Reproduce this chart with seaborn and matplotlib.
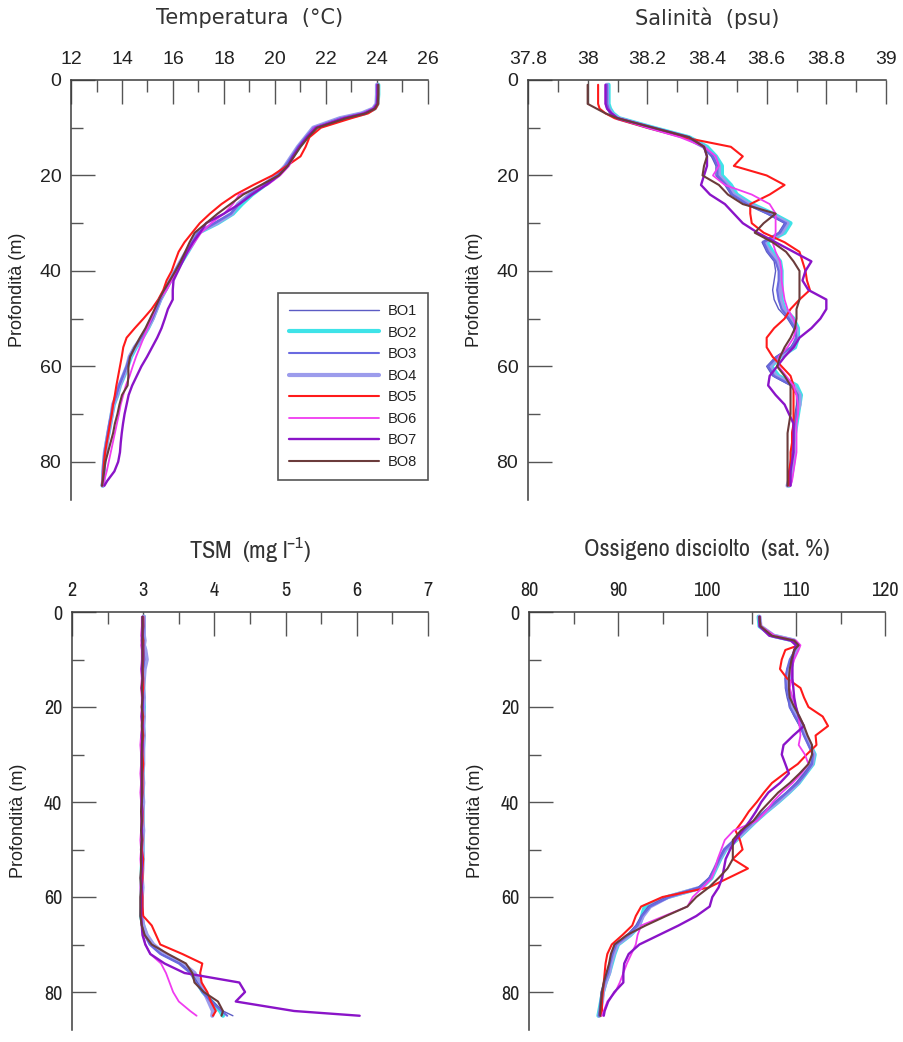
import matplotlib
matplotlib.use("Agg")
import matplotlib.pyplot as plt
import matplotlib.font_manager as fm
from matplotlib.ticker import MultipleLocator, FixedLocator, FuncFormatter
import numpy as np
import pandas as pd
import seaborn as sns

# ---------------- data ----------------
stations = ["BO1", "BO2", "BO3", "BO4", "BO5", "BO6", "BO7", "BO8"]

depth = [1, 3, 5, 6, 7, 8, 10, 12, 14, 16, 18, 20, 22, 24, 26,
         28, 30, 32, 34, 36, 38, 40, 42, 44, 46, 48, 50, 52, 54, 56,
         58, 60, 62, 64, 66, 68, 70, 72, 74, 76, 78, 80, 82, 84, 85]

# Temperature (deg C)
temp_BO1 = [24.02, 24.02, 24.00, 23.88, 23.45, 22.60, 21.55, 21.22, 20.92, 20.70, 20.42, 20.10, 19.60, 19.05, 18.60,
            18.25, 17.60, 17.00, 16.78, 16.53, 16.30, 16.10, 15.90, 15.70, 15.50, 15.35, 15.20, 15.00, 14.75, 14.50,
            14.30, 14.18, 14.05, 13.90, 13.78, 13.65, 13.58, 13.52, 13.45, 13.38, 13.32, 13.28, 13.26, 13.24, 13.20]
temp_BO2 = [24.05, 24.05, 24.02, 23.90, 23.50, 22.70, 21.60, 21.25, 20.95, 20.70, 20.45, 20.10, 19.60, 19.10, 18.70,
            18.35, 17.75, 17.00, 16.80, 16.58, 16.35, 16.10, 15.90, 15.70, 15.50, 15.35, 15.20, 15.02, 14.80, 14.55,
            14.35, 14.22, 14.08, 13.92, 13.82, 13.68, 13.60, 13.54, 13.47, 13.40, 13.35, 13.30, 13.28, 13.26, 13.24]
temp_BO3 = [24.00, 24.00, 23.98, 23.85, 23.42, 22.58, 21.52, 21.20, 20.90, 20.66, 20.40, 20.08, 19.58, 19.02, 18.58,
            18.28, 17.65, 16.98, 16.76, 16.52, 16.30, 16.08, 15.88, 15.68, 15.50, 15.35, 15.18, 14.98, 14.75, 14.50,
            14.30, 14.18, 14.03, 13.88, 13.78, 13.65, 13.58, 13.50, 13.44, 13.38, 13.32, 13.28, 13.25, 13.23, 13.20]
temp_BO4 = [24.00, 24.00, 23.98, 23.85, 23.40, 22.55, 21.50, 21.20, 20.90, 20.65, 20.40, 20.07, 19.55, 19.00, 18.55,
            18.30, 17.70, 16.95, 16.75, 16.52, 16.30, 16.10, 15.90, 15.70, 15.50, 15.35, 15.20, 15.00, 14.77, 14.50,
            14.30, 14.20, 14.05, 13.90, 13.80, 13.65, 13.60, 13.53, 13.46, 13.40, 13.33, 13.30, 13.27, 13.27, 13.25]
temp_BO5 = [24.05, 24.05, 24.05, 23.95, 23.65, 23.00, 21.80, 21.35, 21.20, 21.00, 20.46, 19.90, 19.15, 18.45, 17.90,
            17.45, 17.05, 16.75, 16.45, 16.22, 16.08, 15.95, 15.75, 15.62, 15.42, 15.16, 14.84, 14.50, 14.18, 14.05,
            13.99, 13.92, 13.85, 13.78, 13.72, 13.65, 13.60, 13.53, 13.47, 13.40, 13.34, 13.30, 13.27, 13.24, 13.22]
temp_BO6 = [24.02, 24.02, 24.00, 23.85, 23.45, 22.65, 21.55, 21.25, 20.95, 20.75, 20.55, 20.20, 19.70, 18.60, 18.35,
            18.00, 17.50, 17.10, 16.85, 16.60, 16.35, 16.15, 15.95, 15.75, 15.45, 15.30, 15.15, 15.00, 14.85, 14.70,
            14.55, 14.42, 14.30, 14.15, 14.05, 13.95, 13.88, 13.80, 13.72, 13.64, 13.56, 13.48, 13.40, 13.30, 13.25]
temp_BO7 = [24.02, 24.02, 24.00, 23.88, 23.50, 22.70, 21.60, 21.25, 20.95, 20.70, 20.50, 20.15, 19.65, 19.10, 18.60,
            18.00, 17.30, 17.06, 16.78, 16.56, 16.38, 16.20, 16.02, 15.99, 15.99, 15.80, 15.68, 15.55, 15.38, 15.18,
            14.98, 14.76, 14.58, 14.40, 14.26, 14.18, 14.10, 14.04, 13.99, 13.95, 13.92, 13.85, 13.70, 13.42, 13.31]
temp_BO8 = [24.05, 24.05, 24.03, 23.92, 23.55, 22.80, 21.65, 21.30, 21.00, 20.75, 20.50, 20.15, 19.45, 18.75, 18.25,
            17.75, 17.30, 16.85, 16.65, 16.48, 16.30, 16.10, 15.88, 15.65, 15.45, 15.28, 15.10, 14.92, 14.70, 14.50,
            14.32, 14.25, 14.25, 14.22, 14.00, 13.90, 13.82, 13.72, 13.65, 13.55, 13.45, 13.35, 13.30, 13.25, 13.22]

# Salinity (psu)
sal_BO1 = [38.060, 38.060, 38.060, 38.065, 38.075, 38.095, 38.200, 38.320, 38.385, 38.415, 38.430, 38.430, 38.460, 38.480, 38.530,
           38.600, 38.660, 38.640, 38.585, 38.600, 38.625, 38.630, 38.625, 38.620, 38.625, 38.640, 38.670, 38.690, 38.700, 38.680,
           38.630, 38.600, 38.620, 38.680, 38.700, 38.700, 38.695, 38.690, 38.685, 38.685, 38.685, 38.680, 38.680, 38.675, 38.670]
sal_BO2 = [38.070, 38.070, 38.070, 38.075, 38.085, 38.105, 38.220, 38.340, 38.400, 38.430, 38.450, 38.450, 38.480, 38.500, 38.550,
           38.620, 38.680, 38.660, 38.600, 38.620, 38.645, 38.650, 38.650, 38.650, 38.650, 38.660, 38.690, 38.705, 38.705, 38.695,
           38.645, 38.615, 38.640, 38.700, 38.715, 38.710, 38.705, 38.700, 38.695, 38.690, 38.690, 38.690, 38.685, 38.680, 38.675]
sal_BO3 = [38.065, 38.065, 38.065, 38.070, 38.080, 38.100, 38.210, 38.330, 38.390, 38.420, 38.435, 38.435, 38.465, 38.485, 38.535,
           38.605, 38.665, 38.645, 38.590, 38.605, 38.630, 38.640, 38.640, 38.635, 38.640, 38.650, 38.675, 38.695, 38.700, 38.685,
           38.635, 38.605, 38.625, 38.685, 38.705, 38.705, 38.700, 38.695, 38.690, 38.690, 38.685, 38.680, 38.680, 38.675, 38.670]
sal_BO4 = [38.065, 38.065, 38.065, 38.070, 38.080, 38.100, 38.210, 38.330, 38.390, 38.420, 38.440, 38.440, 38.470, 38.490, 38.540,
           38.610, 38.670, 38.650, 38.590, 38.610, 38.635, 38.645, 38.645, 38.645, 38.645, 38.655, 38.680, 38.700, 38.700, 38.690,
           38.640, 38.610, 38.630, 38.690, 38.710, 38.710, 38.700, 38.695, 38.690, 38.690, 38.690, 38.685, 38.680, 38.675, 38.670]
sal_BO5 = [38.035, 38.035, 38.035, 38.040, 38.060, 38.090, 38.200, 38.320, 38.480, 38.520, 38.490, 38.600, 38.660, 38.610, 38.545,
           38.545, 38.550, 38.590, 38.660, 38.710, 38.720, 38.730, 38.735, 38.745, 38.710, 38.680, 38.660, 38.625, 38.600, 38.600,
           38.620, 38.650, 38.680, 38.690, 38.690, 38.690, 38.690, 38.690, 38.685, 38.685, 38.680, 38.680, 38.675, 38.675, 38.675]
sal_BO6 = [38.060, 38.060, 38.060, 38.065, 38.080, 38.100, 38.200, 38.310, 38.390, 38.430, 38.440, 38.420, 38.460, 38.550, 38.610,
           38.630, 38.630, 38.630, 38.620, 38.630, 38.645, 38.650, 38.650, 38.655, 38.660, 38.670, 38.690, 38.700, 38.690, 38.670,
           38.640, 38.640, 38.665, 38.690, 38.700, 38.705, 38.705, 38.700, 38.700, 38.700, 38.700, 38.695, 38.690, 38.685, 38.680]
sal_BO7 = [38.060, 38.060, 38.060, 38.065, 38.080, 38.100, 38.220, 38.340, 38.390, 38.400, 38.400, 38.390, 38.380, 38.410, 38.460,
           38.490, 38.520, 38.570, 38.630, 38.690, 38.750, 38.730, 38.720, 38.740, 38.800, 38.800, 38.780, 38.750, 38.710, 38.690,
           38.660, 38.635, 38.610, 38.605, 38.630, 38.660, 38.675, 38.690, 38.690, 38.690, 38.690, 38.685, 38.680, 38.680, 38.680]
sal_BO8 = [38.000, 38.000, 38.000, 38.030, 38.060, 38.100, 38.220, 38.340, 38.390, 38.400, 38.390, 38.385, 38.440, 38.470, 38.520,
           38.630, 38.590, 38.560, 38.620, 38.665, 38.690, 38.710, 38.710, 38.710, 38.710, 38.700, 38.700, 38.695, 38.680, 38.660,
           38.645, 38.635, 38.660, 38.680, 38.680, 38.680, 38.680, 38.675, 38.670, 38.670, 38.670, 38.670, 38.670, 38.670, 38.670]

# TSM (mg/l)
tsm_BO1 = [3.00, 3.01, 3.00, 3.01, 3.00, 3.01, 3.02, 3.00, 3.00, 2.99, 3.00, 3.00, 2.99, 3.00, 3.00,
           2.99, 2.99, 2.99, 2.98, 2.98, 2.99, 2.99, 2.98, 2.98, 2.99, 2.99, 2.98, 2.98, 2.98, 2.98,
           2.98, 2.97, 2.97, 2.97, 2.98, 3.02, 3.10, 3.25, 3.52, 3.68, 3.76, 3.85, 3.98, 4.12, 4.26]
tsm_BO2 = [3.01, 3.01, 3.00, 3.01, 3.01, 3.02, 3.03, 3.01, 3.00, 3.00, 3.00, 3.01, 3.00, 3.00, 3.00,
           3.00, 2.99, 2.99, 2.99, 2.99, 2.99, 2.99, 2.99, 2.99, 2.99, 2.99, 2.99, 2.99, 2.98, 2.98,
           2.98, 2.98, 2.98, 2.97, 3.00, 3.04, 3.12, 3.28, 3.55, 3.70, 3.76, 3.84, 3.96, 4.08, 4.12]
tsm_BO3 = [3.00, 3.00, 3.00, 3.00, 3.01, 3.00, 3.01, 3.00, 2.99, 3.00, 3.00, 2.99, 2.99, 2.99, 3.00,
           2.99, 2.99, 2.98, 2.99, 2.98, 2.99, 2.98, 2.99, 2.98, 2.98, 2.98, 2.98, 2.98, 2.97, 2.98,
           2.97, 2.97, 2.97, 2.97, 2.98, 3.02, 3.09, 3.24, 3.50, 3.66, 3.74, 3.83, 3.95, 4.10, 4.18]
tsm_BO4 = [3.01, 3.01, 3.01, 3.02, 3.01, 3.03, 3.05, 3.02, 3.01, 3.00, 3.01, 3.00, 3.01, 3.00, 3.01,
           3.00, 3.00, 3.00, 2.99, 3.00, 2.99, 3.00, 2.99, 2.99, 3.00, 2.99, 2.99, 2.99, 2.99, 2.98,
           2.99, 2.98, 2.98, 2.98, 3.00, 3.05, 3.14, 3.30, 3.55, 3.72, 3.80, 3.86, 3.92, 3.98, 3.97]
tsm_BO5 = [3.00, 3.00, 2.99, 3.00, 3.00, 3.00, 3.00, 2.99, 3.00, 3.00, 2.99, 2.98, 3.00, 2.99, 3.00,
           2.99, 2.99, 3.00, 2.99, 2.99, 2.99, 2.98, 2.99, 2.99, 2.98, 2.99, 2.98, 3.00, 2.99, 2.99,
           2.98, 2.99, 2.99, 3.00, 3.12, 3.18, 3.24, 3.55, 3.83, 3.80, 3.82, 3.90, 3.95, 4.02, 3.98]
tsm_BO6 = [2.98, 2.98, 2.97, 2.98, 2.97, 2.98, 2.98, 2.97, 2.98, 2.97, 2.98, 2.98, 2.97, 2.98, 2.97,
           2.96, 2.97, 2.97, 2.96, 2.97, 2.96, 2.97, 2.97, 2.97, 2.97, 2.96, 2.97, 2.96, 2.97, 2.97,
           2.96, 2.97, 2.97, 2.97, 2.98, 3.00, 3.03, 3.10, 3.25, 3.32, 3.37, 3.42, 3.50, 3.66, 3.75]
tsm_BO7 = [2.99, 2.99, 2.99, 2.98, 2.99, 2.99, 2.99, 2.98, 2.99, 2.98, 2.99, 2.99, 2.98, 2.99, 2.98,
           2.99, 2.98, 2.98, 2.98, 2.98, 2.98, 2.98, 2.98, 2.98, 2.98, 2.98, 2.97, 2.98, 2.98, 2.97,
           2.98, 2.97, 2.97, 2.97, 2.98, 2.99, 3.03, 3.10, 3.30, 3.58, 4.35, 4.43, 4.30, 5.12, 6.04]
tsm_BO8 = [2.99, 2.99, 2.99, 2.99, 2.99, 2.99, 2.99, 2.99, 2.99, 2.98, 2.99, 2.98, 2.99, 2.98, 2.99,
           2.98, 2.98, 2.98, 2.98, 2.98, 2.98, 2.98, 2.97, 2.98, 2.97, 2.98, 2.97, 2.97, 2.97, 2.96,
           2.97, 2.96, 2.96, 2.96, 2.98, 3.02, 3.12, 3.35, 3.60, 3.69, 3.72, 3.85, 4.05, 4.12, 4.10]

# Dissolved oxygen (sat. %)
oxy_BO1 = [105.8, 105.9, 107.3, 109.6, 110.0, 109.9, 109.4, 109.0, 108.8, 108.8, 109.0, 109.3, 109.8, 110.4, 110.9,
           111.4, 111.9, 111.7, 110.9, 110.0, 108.9, 107.6, 106.4, 105.2, 104.1, 103.0, 101.9, 101.3, 100.8, 100.2,
           99.0, 95.4, 93.4, 92.6, 92.0, 91.0, 89.7, 89.3, 89.0, 88.8, 88.4, 88.1, 88.0, 87.9, 87.8]
oxy_BO2 = [105.8, 105.9, 107.4, 109.7, 110.1, 110.0, 109.6, 109.4, 109.2, 109.1, 109.4, 109.5, 110.1, 110.7, 111.1,
           111.6, 112.1, 111.9, 111.1, 110.3, 109.2, 108.0, 106.7, 105.5, 104.4, 103.3, 102.1, 101.5, 101.0, 100.5,
           99.4, 95.6, 93.0, 92.7, 92.4, 91.4, 90.0, 89.6, 89.3, 89.0, 88.6, 88.3, 88.1, 87.9, 87.8]
oxy_BO3 = [105.9, 106.0, 107.4, 109.7, 110.1, 109.9, 109.3, 109.0, 108.8, 108.9, 109.2, 109.3, 109.9, 110.5, 110.9,
           111.4, 111.9, 111.8, 111.1, 110.2, 109.0, 107.8, 106.5, 105.3, 104.2, 103.1, 102.0, 101.4, 100.9, 100.3,
           99.2, 95.8, 93.6, 92.7, 92.2, 91.2, 89.8, 89.4, 89.1, 88.9, 88.5, 88.2, 88.1, 88.0, 87.9]
oxy_BO4 = [105.9, 106.0, 107.5, 109.8, 110.2, 110.0, 109.5, 109.3, 109.1, 109.0, 109.3, 109.4, 110.0, 110.6, 111.0,
           111.5, 112.0, 111.8, 111.0, 110.2, 109.1, 107.9, 106.6, 105.4, 104.3, 103.2, 102.0, 101.4, 100.9, 100.4,
           99.3, 95.6, 93.6, 92.8, 92.3, 91.3, 89.9, 89.5, 89.2, 89.0, 88.6, 88.3, 88.2, 88.0, 87.9]
oxy_BO5 = [105.9, 106.0, 107.5, 109.6, 110.3, 108.8, 108.4, 108.2, 109.0, 110.5, 110.9, 111.4, 113.0, 113.6, 112.2,
           112.3, 111.2, 110.2, 108.7, 107.3, 106.4, 105.6, 104.7, 104.0, 103.2, 103.7, 104.0, 102.9, 104.6, 102.4,
           100.2, 95.0, 92.6, 92.0, 91.6, 90.5, 89.3, 88.8, 88.6, 88.5, 88.4, 88.3, 88.2, 88.2, 88.1]
oxy_BO6 = [105.9, 106.0, 107.6, 110.0, 110.5, 110.3, 109.8, 109.5, 109.5, 109.3, 109.6, 110.0, 110.3, 110.4, 110.5,
           110.3, 111.0, 111.4, 110.6, 109.6, 108.4, 107.4, 106.6, 105.6, 103.0, 102.0, 101.6, 101.2, 100.9, 100.5,
           99.5, 98.4, 97.8, 95.2, 92.6, 92.2, 92.0, 91.5, 91.0, 90.6, 90.2, 89.7, 88.8, 88.4, 88.2]
oxy_BO7 = [105.9, 105.9, 107.0, 109.4, 110.0, 109.8, 109.6, 109.6, 109.6, 109.7, 109.8, 110.0, 110.3, 110.9, 109.7,
           108.6, 108.4, 108.8, 109.2, 108.2, 106.9, 106.1, 105.5, 104.8, 104.0, 103.2, 102.6, 102.1, 101.9, 101.7,
           101.3, 100.6, 100.3, 98.8, 96.8, 94.6, 92.4, 91.2, 90.7, 90.6, 90.6, 89.6, 88.9, 88.5, 88.4]
oxy_BO8 = [105.9, 106.0, 107.3, 109.8, 110.3, 109.8, 109.5, 109.3, 109.2, 109.2, 109.3, 109.8, 110.4, 110.9, 111.3,
           111.8, 111.8, 111.4, 110.4, 109.3, 108.0, 107.0, 106.0, 105.2, 103.8, 102.9, 102.9, 102.9, 102.3, 101.3,
           100.2, 98.8, 97.8, 95.4, 93.1, 91.0, 89.6, 89.2, 89.0, 88.7, 88.4, 88.2, 88.1, 88.0, 88.0]

temp = dict(zip(stations, [temp_BO1, temp_BO2, temp_BO3, temp_BO4, temp_BO5, temp_BO6, temp_BO7, temp_BO8]))
sal = dict(zip(stations, [sal_BO1, sal_BO2, sal_BO3, sal_BO4, sal_BO5, sal_BO6, sal_BO7, sal_BO8]))
tsm = dict(zip(stations, [tsm_BO1, tsm_BO2, tsm_BO3, tsm_BO4, tsm_BO5, tsm_BO6, tsm_BO7, tsm_BO8]))
oxy = dict(zip(stations, [oxy_BO1, oxy_BO2, oxy_BO3, oxy_BO4, oxy_BO5, oxy_BO6, oxy_BO7, oxy_BO8]))

for dd in (temp, sal, tsm, oxy):
    for k, v in dd.items():
        assert len(v) == len(depth), (k, len(v))

# ---------------- style ----------------
colors = {"BO1": "#5b5bc4", "BO2": "#3ee3e8", "BO3": "#6a6ae0", "BO4": "#9c9cec",
          "BO5": "#ff1a1a", "BO6": "#f03cf0", "BO7": "#8a14c8", "BO8": "#6b3b3b"}
widths = {"BO1": 1.0, "BO2": 3.0, "BO3": 1.5, "BO4": 3.0,
          "BO5": 1.5, "BO6": 1.3, "BO7": 1.7, "BO8": 1.5}
zorders = {"BO1": 3, "BO2": 2, "BO3": 3, "BO4": 2.1,
           "BO5": 3, "BO6": 3, "BO7": 3, "BO8": 3}

sns.set_style("white")
plt.rcParams["font.family"] = ["Liberation Sans", "DejaVu Sans"]
plt.rcParams["mathtext.default"] = "regular"

# pick a condensed face for the lower panels if one is installed
entries = fm.fontManager.ttflist
narrow_props = None
for f in entries:
    if ("Narrow" in f.name or "Condensed" in f.name) and str(f.weight) in ("400", "normal", "regular", "book"):
        narrow_props = dict(family=f.name, stretch="normal")
        break
if narrow_props is None:
    for f in entries:
        if "Narrow" in f.name or "Condensed" in f.name:
            narrow_props = dict(family=f.name, stretch="normal")
            break
if narrow_props is None:
    for f in entries:
        if f.name == "DejaVu Sans" and str(f.stretch) in ("condensed", "semi-condensed"):
            narrow_props = dict(family="DejaVu Sans", stretch=str(f.stretch))
            break
if narrow_props is None:
    narrow_props = dict(family="Liberation Sans", stretch="normal")
    NARROW_TITLE, NARROW_TICK = 15, 13.5
else:
    NARROW_TITLE, NARROW_TICK = 17.5, 14.5

SPINE = "#3c3c3c"
TICK = "#555555"
TXT = "#222222"

fig = plt.figure(figsize=(9.04, 10.42), dpi=100)
W, H = 904.0, 1042.0


def make_ax(x0, x1, ytop, ybot):
    return fig.add_axes([x0 / W, 1 - ybot / H, (x1 - x0) / W, (ybot - ytop) / H])


ax_t = make_ax(71, 428, 80, 500)
ax_s = make_ax(528, 886, 80, 500)
ax_m = make_ax(72, 428, 612, 1030)
ax_o = make_ax(529, 885, 612, 1030)


def fmt(v, pos):
    return ("%.1f" % v).rstrip("0").rstrip(".")


def draw(ax, data, xlim, major, minor, title, tprops, tsize, lprops, lsize, title_off):
    for st in stations:
        sub = pd.DataFrame({"depth": depth, "value": data[st]})
        sns.lineplot(data=sub, x="value", y="depth", ax=ax, color=colors[st],
                     linewidth=widths[st], label=st, orient="y", estimator=None,
                     sort=False, zorder=zorders[st], legend=False)
    ax.set_xlim(*xlim)
    ax.set_ylim(88, 0)
    ax.xaxis.set_major_locator(MultipleLocator(major))
    ax.xaxis.set_minor_locator(MultipleLocator(minor))
    ax.xaxis.set_major_formatter(FuncFormatter(fmt))
    ax.yaxis.set_major_locator(FixedLocator([0, 20, 40, 60, 80]))
    ax.yaxis.set_minor_locator(FixedLocator([10, 30, 50, 70]))
    ax.xaxis.tick_top()
    for s in ("right", "bottom"):
        ax.spines[s].set_visible(False)
    for s in ("left", "top"):
        ax.spines[s].set_color(SPINE)
        ax.spines[s].set_linewidth(1.1)
    ax.tick_params(axis="both", which="both", direction="in", color=TICK, width=1.0,
                   labelcolor=TXT)
    ax.tick_params(axis="both", which="major", length=17)
    ax.tick_params(axis="both", which="minor", length=8.5)
    ax.tick_params(axis="x", which="both", top=True, bottom=False, labeltop=True,
                   labelbottom=False, pad=8.5, labelsize=lsize)
    ax.tick_params(axis="y", which="both", left=True, right=False, pad=7, labelsize=lsize)
    for lab in ax.get_xticklabels() + ax.get_yticklabels():
        lab.set_fontfamily(lprops["family"])
        lab.set_fontstretch(lprops["stretch"])
    ax.set_xlabel("")
    ax.set_ylabel("Profondità (m)", fontsize=13, color=TXT)
    ax.yaxis.set_label_coords(-45 / 357.0, 0.5)
    ax.set_title(title, y=1 + title_off, pad=0, va="center", fontsize=tsize,
                 family=tprops["family"], fontstretch=tprops["stretch"], color="#333333")
    ax.grid(False)


dv = dict(family="DejaVu Sans", stretch="normal")
lib = dict(family="Liberation Sans", stretch="normal")
draw(ax_t, temp, (12, 26), 2, 1, "Temperatura  (°C)", dv, 15, lib, 14, 62 / 420)
draw(ax_s, sal, (37.8, 39.0), 0.2, 0.1, "Salinità  (psu)", dv, 15, lib, 14, 62 / 420)
draw(ax_m, tsm, (2, 7), 1, 0.5, "TSM  (mg l$^{-1}$)", narrow_props, NARROW_TITLE,
     narrow_props, NARROW_TICK, 63 / 418)
draw(ax_o, oxy, (80, 120), 10, 5, "Ossigeno disciolto  (sat. %)", narrow_props, NARROW_TITLE,
     narrow_props, NARROW_TICK, 63 / 418)

handles = ax_t.get_lines()[:len(stations)]
leg = ax_t.legend(handles, stations, loc="upper left",
                  bbox_to_anchor=(278 / W, 1 - 293 / H), bbox_transform=fig.transFigure,
                  frameon=True, fancybox=False, framealpha=1, edgecolor="#555555",
                  fontsize=10.5, handlelength=6.2, handletextpad=0.55,
                  labelspacing=0.52, borderpad=0.75, borderaxespad=0)
leg.get_frame().set_linewidth(1.2)
for t in leg.get_texts():
    t.set_color(TXT)

fig.savefig("out.png", dpi=100, facecolor="white")
